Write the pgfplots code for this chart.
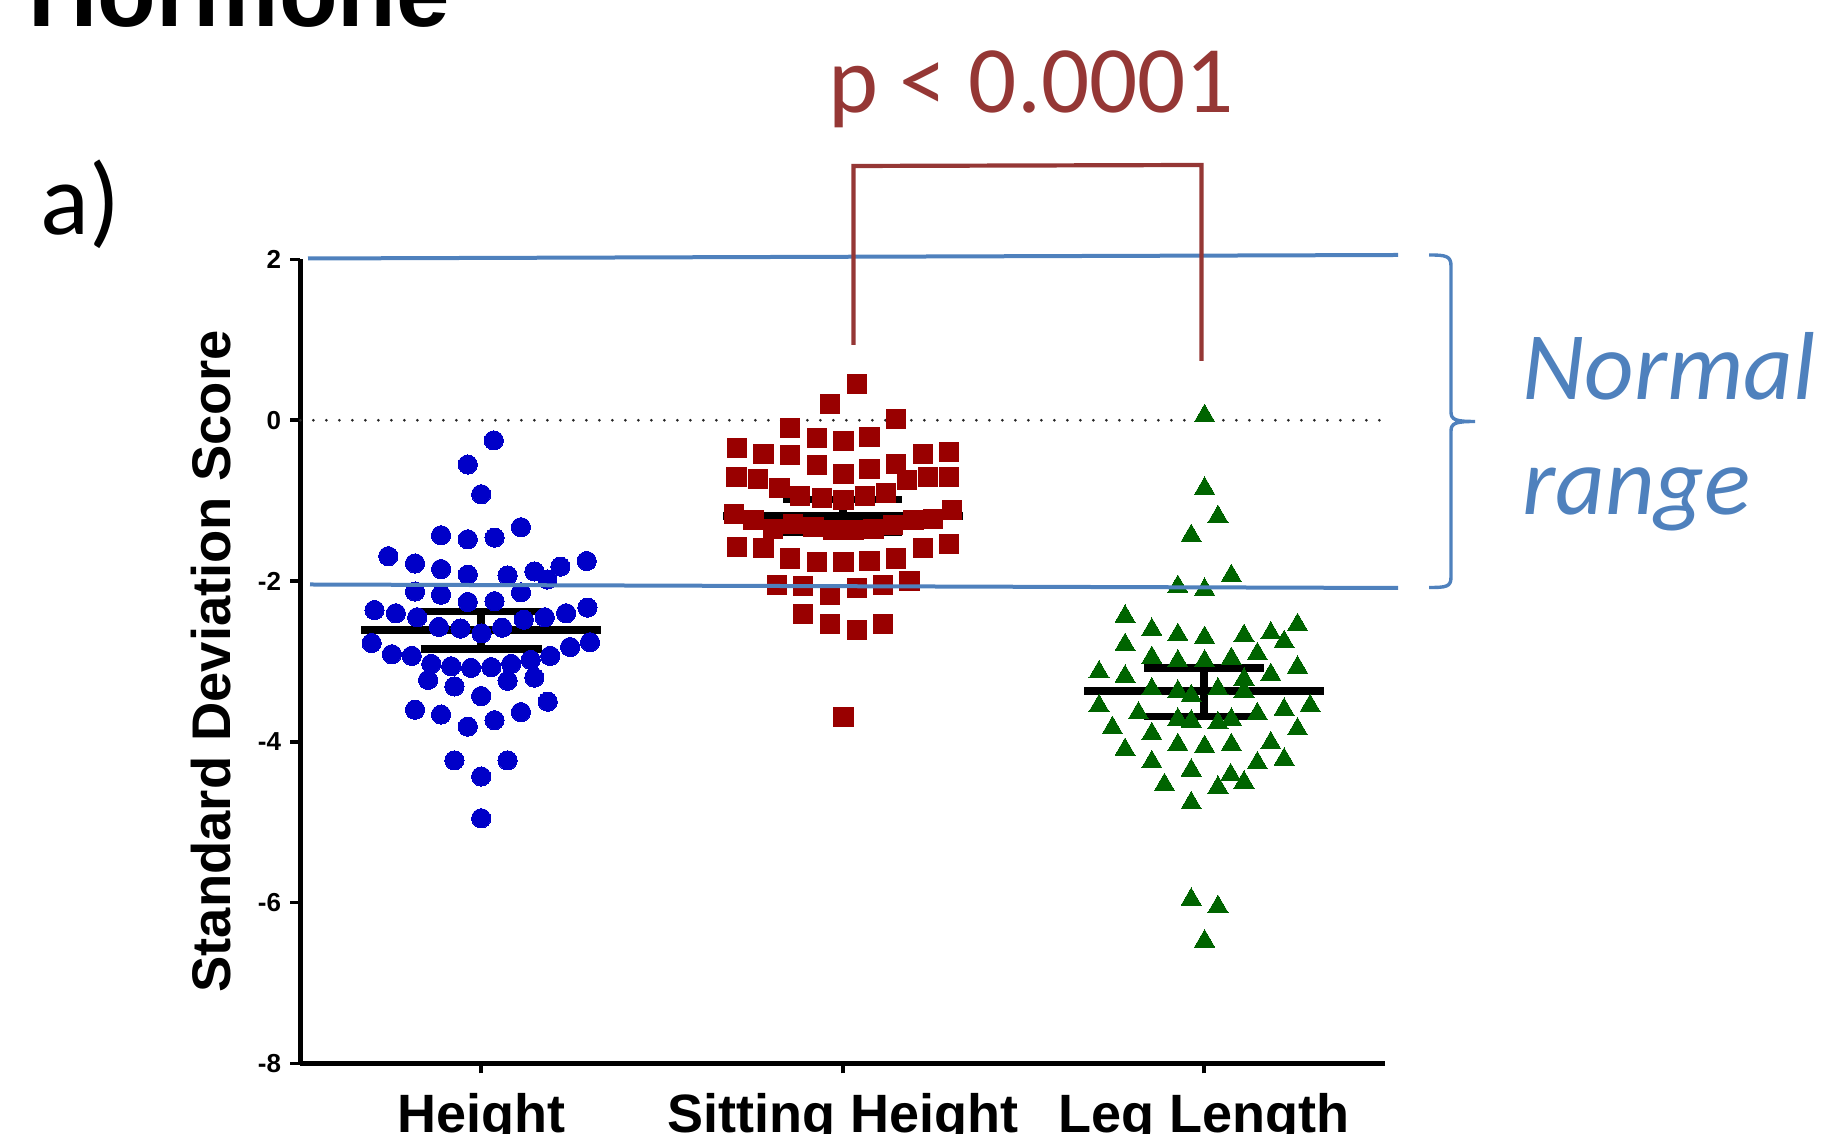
\documentclass[border=0pt]{standalone}
\usepackage{fontspec}
\setmainfont{Liberation Sans}
\newfontfamily\calibri{Carlito}
\usepackage{graphicx}
\usepackage{pgfplots}
\pgfplotsset{compat=1.18}

\definecolor{ptblue}{RGB}{0,0,200}
\definecolor{ptred}{RGB}{153,0,0}
\definecolor{ptgreen}{RGB}{0,100,0}
\definecolor{annblue}{RGB}{79,129,189}
\definecolor{annred}{RGB}{149,55,53}

\begin{document}
\begin{tikzpicture}
\begin{axis}[
  at={(150.2pt,35.25pt)}, anchor=south west,
  scale only axis, width=542.3pt, height=402pt,
  xmin=0.5, xmax=3.5, ymin=-8, ymax=2,
  axis x line*=bottom, axis y line*=left,
  axis line style={line width=2.2pt, black},
  tick align=outside, major tick length=5pt,
  tick style={line width=1.8pt, black},
  xtick={1,2,3}, xticklabels={Height, Sitting Height, Leg Length},
  ytick={-8,-6,-4,-2,0,2}, yticklabels={-8,-6,-4,-2,0,2},
  xticklabel style={font=\fontsize{27}{27}\selectfont\bfseries, inner sep=0pt, anchor=north, yshift=-9.5pt},
  yticklabel style={font=\fontsize{13}{13}\selectfont\bfseries, inner sep=0pt, anchor=east, xshift=-4.5pt},
  ylabel={Standard Deviation Score},
  ylabel style={font=\fontsize{27.2}{27.2}\selectfont\bfseries, at={(axis description cs:-0.0824,0.5)}, anchor=center},
  clip=false,
]
% zero reference line
\addplot[black!85, line width=1.5pt, line cap=round, dash pattern=on 0pt off 6.5pt] coordinates {(0.5,0) (3.5,0)};

% Height
\addplot[ptblue, only marks, mark=*, mark size=4.8pt, mark options={draw=ptblue, fill=ptblue, line width=0pt}] table {
x y
1.035 -0.25
0.963 -0.55
1.000 -0.92
0.889 -1.43
0.963 -1.48
1.037 -1.46
1.110 -1.33
0.743 -1.69
0.817 -1.78
0.889 -1.85
0.963 -1.92
1.073 -1.93
1.147 -1.88
1.183 -1.98
1.219 -1.82
1.292 -1.75
0.817 -2.13
0.889 -2.17
0.963 -2.26
1.037 -2.25
1.110 -2.14
0.705 -2.36
0.764 -2.40
0.823 -2.45
0.883 -2.57
0.943 -2.59
1.001 -2.65
1.058 -2.58
1.118 -2.48
1.176 -2.45
1.235 -2.40
1.294 -2.33
0.697 -2.77
0.753 -2.91
0.808 -2.93
0.862 -3.03
0.917 -3.06
0.972 -3.08
1.028 -3.07
1.083 -3.03
1.137 -2.98
1.191 -2.93
1.246 -2.82
1.301 -2.76
0.853 -3.23
0.926 -3.31
1.000 -3.43
1.073 -3.24
1.147 -3.20
1.184 -3.50
0.817 -3.60
0.889 -3.66
0.963 -3.81
1.037 -3.73
1.110 -3.63
0.926 -4.23
1.073 -4.23
1.000 -4.43
1.000 -4.95
};

% Sitting Height
\addplot[ptred, only marks, mark=square*, mark size=4.8pt, mark options={draw=ptred, fill=ptred, line width=0pt}] table {
x y
2.039 0.456
1.965 0.207
1.854 -0.091
2.147 0.012
1.928 -0.220
2.002 -0.257
2.074 -0.203
1.708 -0.340
1.781 -0.415
1.855 -0.435
1.928 -0.560
2.002 -0.663
2.074 -0.601
2.147 -0.539
2.221 -0.415
2.294 -0.394
1.706 -0.705
1.765 -0.726
1.825 -0.842
1.882 -0.945
1.942 -0.962
2.002 -0.995
2.062 -0.945
2.119 -0.904
2.177 -0.746
2.237 -0.705
2.294 -0.705
1.699 -1.161
1.753 -1.244
1.808 -1.348
1.863 -1.285
1.919 -1.327
1.974 -1.368
2.030 -1.368
2.085 -1.348
2.140 -1.306
2.196 -1.244
2.249 -1.223
2.303 -1.119
1.708 -1.576
1.781 -1.588
1.855 -1.720
1.928 -1.762
2.002 -1.762
2.074 -1.754
2.147 -1.720
2.221 -1.588
2.294 -1.534
1.818 -2.052
1.891 -2.065
1.965 -2.177
2.039 -2.081
2.111 -2.052
2.185 -1.998
1.891 -2.413
1.965 -2.529
2.039 -2.604
2.111 -2.529
2.002 -3.690
};

% Leg Length
\addplot[ptgreen, only marks, mark=triangle*, mark size=5.8pt, mark options={draw=ptgreen, fill=ptgreen, line width=0pt}] table {
x y
3.001 0.056
3.001 -0.848
3.038 -1.200
2.964 -1.436
3.075 -1.934
2.927 -2.069
3.001 -2.105
2.781 -2.440
2.855 -2.603
2.927 -2.667
3.001 -2.703
3.110 -2.680
3.184 -2.648
3.258 -2.544
3.221 -2.756
2.781 -2.792
2.855 -2.952
2.927 -2.996
3.001 -2.996
3.075 -2.965
3.147 -2.906
2.709 -3.132
2.781 -3.187
3.184 -3.164
3.258 -3.073
3.110 -3.223
2.855 -3.344
2.927 -3.372
2.964 -3.427
3.038 -3.344
3.110 -3.372
2.709 -3.552
2.818 -3.643
3.221 -3.598
3.293 -3.552
2.927 -3.720
2.964 -3.743
3.038 -3.765
3.075 -3.720
3.147 -3.652
2.746 -3.825
2.855 -3.900
3.258 -3.842
2.781 -4.096
2.927 -4.036
3.001 -4.060
3.075 -4.036
3.184 -4.014
2.855 -4.249
2.964 -4.353
3.147 -4.263
3.221 -4.218
2.890 -4.534
3.073 -4.412
3.110 -4.503
3.038 -4.566
2.964 -4.760
2.964 -5.959
3.038 -6.050
3.001 -6.479
};

% mean and SEM bars
\addplot[black, line width=4pt] coordinates {(0.668,-2.61) (1.332,-2.61)};
\addplot[black, line width=3.6pt] coordinates {(0.8325,-2.375) (1.1675,-2.375)};
\addplot[black, line width=3.6pt] coordinates {(0.8325,-2.845) (1.1675,-2.845)};
\addplot[black, line width=4pt] coordinates {(1,-2.375) (1,-2.845)};

\addplot[black, line width=4pt] coordinates {(1.669,-1.19) (2.332,-1.19)};
\addplot[black, line width=3.6pt] coordinates {(1.835,-0.985) (2.165,-0.985)};
\addplot[black, line width=3.6pt] coordinates {(1.835,-1.40) (2.165,-1.40)};
\addplot[black, line width=4pt] coordinates {(2,-0.985) (2,-1.40)};

\addplot[black, line width=4pt] coordinates {(2.668,-3.37) (3.332,-3.37)};
\addplot[black, line width=3.6pt] coordinates {(2.834,-3.08) (3.166,-3.08)};
\addplot[black, line width=3.6pt] coordinates {(2.834,-3.68) (3.166,-3.68)};
\addplot[black, line width=4pt] coordinates {(3,-3.08) (3,-3.68)};
\end{axis}

\begin{scope}[x=0.5pt, y=-0.5pt, yshift=567pt]
  \draw[annblue, line width=2pt] (308,258.5) -- (1398,255);
  \draw[annblue, line width=2pt] (310,584.5) -- (1398,588);
  \draw[annblue, line width=1.7pt] (1429,255) .. controls (1446,255) and (1451,256) .. (1451,266)
     -- (1451,412) .. controls (1451,420) and (1456,421.5) .. (1475,421.5)
     .. controls (1456,421.5) and (1451,423) .. (1451,431)
     -- (1451,577) .. controls (1451,587) and (1446,587.5) .. (1429,587.5);
  \draw[annred, line width=2.1pt] (853.5,345) -- (853.5,166) -- (1201.5,165) -- (1201.5,361);
  \node[annred, anchor=base west, inner sep=0pt, font=\calibri\fontsize{47.6}{47.6}\selectfont] at (828,113) {p < 0.0001};
  \node[anchor=base west, inner sep=0pt, font=\calibri\fontsize{51}{51}\selectfont] at (40,235) {a)};
  \node[anchor=base west, inner sep=0pt, font=\fontsize{48}{48}\selectfont\bfseries] at (28,27) {Hormone};
  \node[annblue, anchor=base west, inner sep=0pt, font=\calibri\itshape\fontsize{48.3}{48.3}\selectfont] at (1522,400) {Normal};
  \node[annblue, anchor=base west, inner sep=0pt, font=\calibri\itshape\fontsize{48.3}{48.3}\selectfont] at (1522,515) {range};
\end{scope}
\pgfresetboundingbox
\useasboundingbox (0,0) rectangle (913pt,567pt);
\end{tikzpicture}
\end{document}
